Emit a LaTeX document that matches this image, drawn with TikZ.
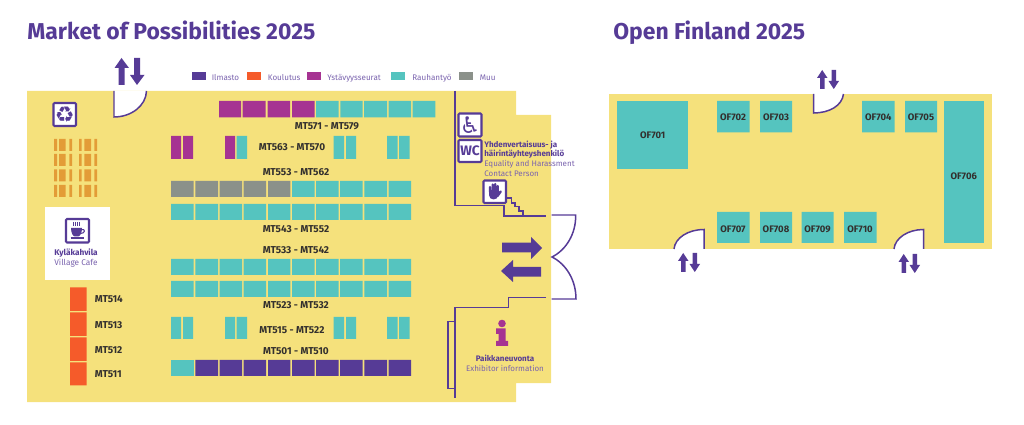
\documentclass[tikz,border=0pt]{standalone}
\usepackage{fontspec}
\setmainfont{Fira Sans}
\newfontfamily\symfont{DejaVu Sans}
\definecolor{keltainen}{HTML}{F5E17C}
\definecolor{violetti}{HTML}{563B96}
\definecolor{vaalea}{HTML}{7A63AE}
\definecolor{oranssi}{HTML}{F55B2A}
\definecolor{magenta}{HTML}{A63392}
\definecolor{turkoosi}{HTML}{55C4BF}
\definecolor{harmaa}{HTML}{8B918A}
\definecolor{roska}{HTML}{E39C37}
\definecolor{teksti}{HTML}{33302E}
\tikzset{
  otsikko/.style={anchor=base west,inner sep=0,text=violetti,font=\fontsize{13.05}{15}\selectfont\bfseries},
  paikka/.style={inner sep=0,text=teksti,font=\fontsize{5.7}{6}\selectfont\bfseries},
  pieni/.style={inner sep=0,text=teksti,font=\fontsize{5.4}{6}\selectfont\bfseries},
  selite/.style={anchor=base west,inner sep=0,text=vaalea,font=\fontsize{4.6}{6}\selectfont},
  nimi/.style={inner sep=0,text=violetti,font=\fontsize{4.55}{6}\selectfont\bfseries},
  nimien/.style={inner sep=0,text=vaalea,font=\fontsize{4.55}{6}\selectfont},
  seina/.style={draw=violetti,line width=.85pt},
  ovi/.style={draw=violetti,line width=.85pt,fill=white},
  ikoni/.style={draw=violetti,line width=1.15pt,fill=white,rounded corners=.6pt},
  nuoli/.style={fill=violetti,draw=none},
  sormi/.style={draw=violetti,line width=1.35pt,line cap=round}
}
\begin{document}
\begin{tikzpicture}[x=0.02cm,y=-0.02cm]
  \useasboundingbox (0,0) rectangle (1024,425);
  %otsikot
  \node[otsikko] (market) at (27,40) {Market of Possibilities 2025};
  \node[otsikko] (open) at (613,40) {Open Finland 2025};
  %%%% SALIT
  \fill[keltainen] (27,91) -- (516,91) -- (516,115) -- (551,115) -- (551,383) -- (516,383) -- (516,402) -- (27,402) -- cycle;
  \fill[keltainen] (609,94) rectangle (991.5,249);
  %selitteet
  \fill[violetti] (192,72) rectangle (206,80.5);
  \fill[oranssi] (247,72) rectangle (261,80.5);
  \fill[magenta] (306.7,72) rectangle (320.7,80.5);
  \fill[turkoosi] (390.7,72) rectangle (404.7,80.5);
  \fill[harmaa] (459,72) rectangle (473,80.5);
  \node[selite] (ilmasto) at (211.5,81) {Ilmasto};
  \node[selite] (koulutus) at (267.5,81) {Koulutus};
  \node[selite] (ystavyys) at (327,81) {Ystävyysseurat};
  \node[selite] (rauhan) at (412,81) {Rauhantyö};
  \node[selite] (muu) at (479.5,81) {Muu};
  %ovet
  \filldraw[ovi] (114,91) -- (114,117) .. controls (131,117) and (146,106) .. (146.5,91);
  \filldraw[ovi] (704,249) -- (704,229.5) .. controls (688,229.5) and (675,238) .. (674,249);
  \filldraw[ovi] (813.5,94) -- (813.5,113) .. controls (829,113) and (842,106) .. (843.5,94);
  \filldraw[ovi] (923.5,249) -- (923.5,229.5) .. controls (908,229.5) and (895,238) .. (894,249);
  \draw[seina] (551.5,215) -- (575.7,215) .. controls (576,234) and (566,250) .. (552,257) .. controls (566,264) and (576,280) .. (576,299) -- (551.5,299);
  %seinat
  \draw[seina] (455,91) -- (455,205.5) -- (504,205.5) -- (504,216) -- (546,216);
  \draw[seina] (507,198) -- (511.5,198) -- (511.5,203) -- (515,203) -- (515,206.5) -- (519,206.5) -- (519,211) -- (523,211) -- (523,216);
  \draw[seina] (546,297.3) -- (508.5,297.3) -- (508.5,307.5) -- (455,307.5) -- (455,398);
  \draw[seina] (455,321.5) -- (448,321.5) -- (448,388.5) -- (455,388.5);
  %nuolet
  \fill[nuoli] (118.5,85) -- (124.5,85) -- (124.5,68) -- (129,68) -- (121.5,58) -- (114.5,68) -- (118.5,68) -- cycle;
  \fill[nuoli] (134,58) -- (140,58) -- (140,75) -- (144.5,75) -- (137,85) -- (130,75) -- (134,75) -- cycle;
  \fill[nuoli] (681,272) -- (685.5,272) -- (685.5,261) -- (688.5,261) -- (683.2,253) -- (678,261) -- (681,261) -- cycle;
  \fill[nuoli] (692.5,253) -- (697,253) -- (697,264) -- (700,264) -- (694.8,272) -- (689.5,264) -- (692.5,264) -- cycle;
  \fill[nuoli] (820,89) -- (824.5,89) -- (824.5,78) -- (827.5,78) -- (822.2,70) -- (817,78) -- (820,78) -- cycle;
  \fill[nuoli] (831.5,70) -- (836,70) -- (836,81) -- (839,81) -- (833.8,89) -- (828.5,81) -- (831.5,81) -- cycle;
  \fill[nuoli] (901.5,273) -- (906,273) -- (906,262) -- (909,262) -- (903.7,254) -- (898.5,262) -- (901.5,262) -- cycle;
  \fill[nuoli] (912.5,254) -- (917,254) -- (917,265) -- (920,265) -- (914.8,273) -- (909.5,265) -- (912.5,265) -- cycle;
  \fill[nuoli] (502,242.7) -- (531,242.7) -- (531,237) -- (542,248) -- (531,259) -- (531,252.3) -- (502,252.3) -- cycle;
  \fill[nuoli] (541,267) -- (513,267) -- (513,260) -- (501,271) -- (513,282) -- (513,276.7) -- (541,276.7) -- cycle;
  %%%% MT paikat
  \fill[magenta] (219,101) rectangle (241,117.5) (242.7,101) rectangle (265.5,117.5) (267.6,101) rectangle (290,117.5) (292,101) rectangle (314.7,117.5);
  \fill[turkoosi] (316,101) rectangle (338.5,117.5) (340.3,101) rectangle (362.5,117.5) (364,101) rectangle (387,117.5) (388.7,101) rectangle (411,117.5) (412.7,101) rectangle (435.3,117.5);
  \fill[magenta] (171,136) rectangle (181,159) (183,136) rectangle (193,159) (225,136) rectangle (235,159);
  \fill[turkoosi] (236.7,136) rectangle (247,159) (333.7,136) rectangle (344,159) (346,136) rectangle (356,159) (387,136) rectangle (397.5,159) (399,136) rectangle (409.7,159);
  \fill[harmaa] (171,181) rectangle (193.7,197) (195.3,181) rectangle (218,197) (219.7,181) rectangle (242,197) (243.7,181) rectangle (266,197) (268,181) rectangle (290.3,197);
  \fill[turkoosi] (292,181) rectangle (314.5,197) (316,181) rectangle (338.5,197) (340,181) rectangle (362.7,197) (364.3,181) rectangle (387,197) (388.7,181) rectangle (411,197);
  \fill[turkoosi] (171,204) rectangle (193.7,220) (195.3,204) rectangle (218,220) (219.7,204) rectangle (242,220) (243.7,204) rectangle (266,220) (268,204) rectangle (290.3,220) (292,204) rectangle (314.5,220) (316,204) rectangle (338.5,220) (340,204) rectangle (362.7,220) (364.3,204) rectangle (387,220) (388.7,204) rectangle (411,220);
  \fill[turkoosi] (171,259) rectangle (193.7,275) (195.3,259) rectangle (218,275) (219.7,259) rectangle (242,275) (243.7,259) rectangle (266,275) (268,259) rectangle (290.3,275) (292,259) rectangle (314.5,275) (316,259) rectangle (338.5,275) (340,259) rectangle (362.7,275) (364.3,259) rectangle (387,275) (388.7,259) rectangle (411,275);
  \fill[turkoosi] (171,281) rectangle (193.7,297) (195.3,281) rectangle (218,297) (219.7,281) rectangle (242,297) (243.7,281) rectangle (266,297) (268,281) rectangle (290.3,297) (292,281) rectangle (314.5,297) (316,281) rectangle (338.5,297) (340,281) rectangle (362.7,297) (364.3,281) rectangle (387,297) (388.7,281) rectangle (411,297);
  \fill[turkoosi] (171,317) rectangle (181,339) (183,317) rectangle (193,339) (225,317) rectangle (235,339) (236.7,317) rectangle (247,339) (333.7,317) rectangle (344,339) (346,317) rectangle (356,339) (387,317) rectangle (397.5,339) (399,317) rectangle (409.7,339);
  \fill[turkoosi] (171,360) rectangle (193.7,376);
  \fill[violetti] (195.3,360) rectangle (218,376) (219.7,360) rectangle (242,376) (243.7,360) rectangle (266,376) (268,360) rectangle (290.3,376) (292,360) rectangle (314.5,376) (316,360) rectangle (338.5,376) (340,360) rectangle (362.7,376) (364.3,360) rectangle (387,376) (388.7,360) rectangle (411,376);
  \fill[oranssi] (70,287.3) rectangle (86.7,311) (70,312.3) rectangle (86.7,336) (70,337.3) rectangle (86.7,361) (70,362.3) rectangle (86.7,385.3);
  \node[paikka] (mt571) at (327,126) {MT571 - MT579};
  \node[paikka] (mt563) at (292,147) {MT563 - MT570};
  \node[paikka] (mt553) at (296,172) {MT553 - MT562};
  \node[paikka] (mt543) at (296,229) {MT543 - MT552};
  \node[paikka] (mt533) at (296,250) {MT533 - MT542};
  \node[paikka] (mt523) at (296,305) {MT523 - MT532};
  \node[paikka] (mt515) at (292,330) {MT515 - MT522};
  \node[paikka] (mt501) at (296,351) {MT501 - MT510};
  \node[paikka,anchor=west] (mt514) at (94.5,299.5) {MT514};
  \node[paikka,anchor=west] (mt513) at (94.5,325) {MT513};
  \node[paikka,anchor=west] (mt512) at (94.5,350) {MT512};
  \node[paikka,anchor=west] (mt511) at (94.5,374.5) {MT511};
  %roska-astiat
  \fill[roska] (54,139) rectangle (57,151) (59,139) rectangle (65.5,151) (69.3,139) rectangle (72,151) (79,139) rectangle (81.7,151) (84.3,139) rectangle (91,151) (94.3,139) rectangle (97,151);
  \fill[roska] (54,154) rectangle (57,166) (59,154) rectangle (65.5,166) (69.3,154) rectangle (72,166) (79,154) rectangle (81.7,166) (84.3,154) rectangle (91,166) (94.3,154) rectangle (97,166);
  \fill[roska] (54,169.5) rectangle (57,181.5) (59,169.5) rectangle (65.5,181.5) (69.3,169.5) rectangle (72,181.5) (79,169.5) rectangle (81.7,181.5) (84.3,169.5) rectangle (91,181.5) (94.3,169.5) rectangle (97,181.5);
  \fill[roska] (54,185) rectangle (57,197) (59,185) rectangle (65.5,197) (69.3,185) rectangle (72,197) (79,185) rectangle (81.7,197) (84.3,185) rectangle (91,197) (94.3,185) rectangle (97,197);
  %ikonit
  \filldraw[ikoni] (53.5,103) rectangle (76,126);
  \node[inner sep=0,text=violetti,font=\symfont\bfseries\fontsize{12.5}{14}\selectfont] (kierratys) at (64.7,114.5) {♻};
  \fill[white] (45,207) rectangle (110,280);
  \filldraw[ikoni] (66,219) rectangle (89,242.5);
  %kuppi
  \fill[violetti] (71,228) -- (82,228) .. controls (82,233) and (80,236.5) .. (78,236.5) -- (75,236.5) .. controls (73,236.5) and (71,233) .. (71,228) -- cycle;
  \draw[violetti,line width=.6pt] (81.5,229.5) .. controls (85.5,228.5) and (85.5,233.5) .. (80.5,233.5);
  \draw[violetti,line width=.7pt] (70.5,238) -- (84,238);
  \draw[violetti,line width=.35pt] (73.5,222) -- (73.5,226.5) (75.5,222) -- (75.5,226.5) (77.5,222) -- (77.5,226.5) (79.5,222) -- (79.5,226.5);
  \node[nimi,font=\fontsize{4.7}{6}\selectfont\bfseries] (kyla) at (76,253) {Kyläkahvila};
  \node[nimien,font=\fontsize{4.7}{6}\selectfont] (cafe) at (76,263) {Village Cafe};
  \filldraw[ikoni] (458.5,113.5) rectangle (481.5,136.5);
  \node[inner sep=0,text=violetti,font=\symfont\fontsize{13}{14}\selectfont] (pyora) at (470,125) {♿};
  \filldraw[ikoni] (458.5,140) rectangle (481.5,162);
  \node[inner sep=0,text=violetti,font=\fontsize{7.8}{10}\selectfont\bfseries] (wc) at (470,151) {WC};
  \filldraw[ikoni] (483.5,180.5) rectangle (506,203);
  %kasi
  \fill[violetti] (489,190) -- (498.5,190) -- (498.5,195) .. controls (498,198) and (496,199.5) .. (493.5,199.5) .. controls (491,199.5) and (489,197.5) .. (489,195) -- cycle;
  \draw[sormi] (490,187) -- (490,192) (492.7,184.5) -- (492.7,192) (495.3,184) -- (495.3,192) (497.7,186) -- (497.7,192) (497.5,196) -- (500.7,191.5);
  %yhteyshenkilo
  \node[nimi,anchor=west] (yhd) at (484,145) {Yhdenvertaisuus- ja};
  \node[nimi,anchor=west] (hai) at (484,154.5) {häirintäyhteyshenkilö};
  \node[nimien,anchor=west] (equ) at (484,164) {Equality and Harassment};
  \node[nimien,anchor=west] (con) at (484,173.5) {Contact Person};
  %neuvonta
  \fill[magenta] (502,323.5) circle (3.8);
  \fill[magenta] (496,328.5) -- (505.5,328.5) -- (505.5,341) -- (508,341) -- (508,346) -- (496,346) -- (496,341) -- (498.5,341) -- (498.5,334) -- (496,334) -- cycle;
  \node[nimi] (pai) at (505,358) {Paikkaneuvonta};
  \node[nimien] (exh) at (505,368) {Exhibitor information};
  %%%% OF paikat
  \fill[turkoosi] (617.3,101) rectangle (688,169);
  \fill[turkoosi] (717,101) rectangle (749.5,132.5) (760,101) rectangle (792,132.5) (862,101) rectangle (894.5,132.5) (905,101) rectangle (937,132.5);
  \fill[turkoosi] (944,101) rectangle (983.5,243);
  \fill[turkoosi] (717,212) rectangle (749.5,243) (760,212) rectangle (792,243) (801.5,212) rectangle (833.5,243) (844,212) rectangle (876.5,243);
  \node[pieni] (of701) at (652.7,135.5) {OF701};
  \node[pieni] (of702) at (733,117) {OF702};
  \node[pieni] (of703) at (776,117) {OF703};
  \node[pieni] (of704) at (878.3,117) {OF704};
  \node[pieni] (of705) at (921,117) {OF705};
  \node[pieni] (of706) at (963.7,176.5) {OF706};
  \node[pieni] (of707) at (733,229) {OF707};
  \node[pieni] (of708) at (776,229) {OF708};
  \node[pieni] (of709) at (817.5,229) {OF709};
  \node[pieni] (of710) at (860,229) {OF710};
\end{tikzpicture}
\end{document}
